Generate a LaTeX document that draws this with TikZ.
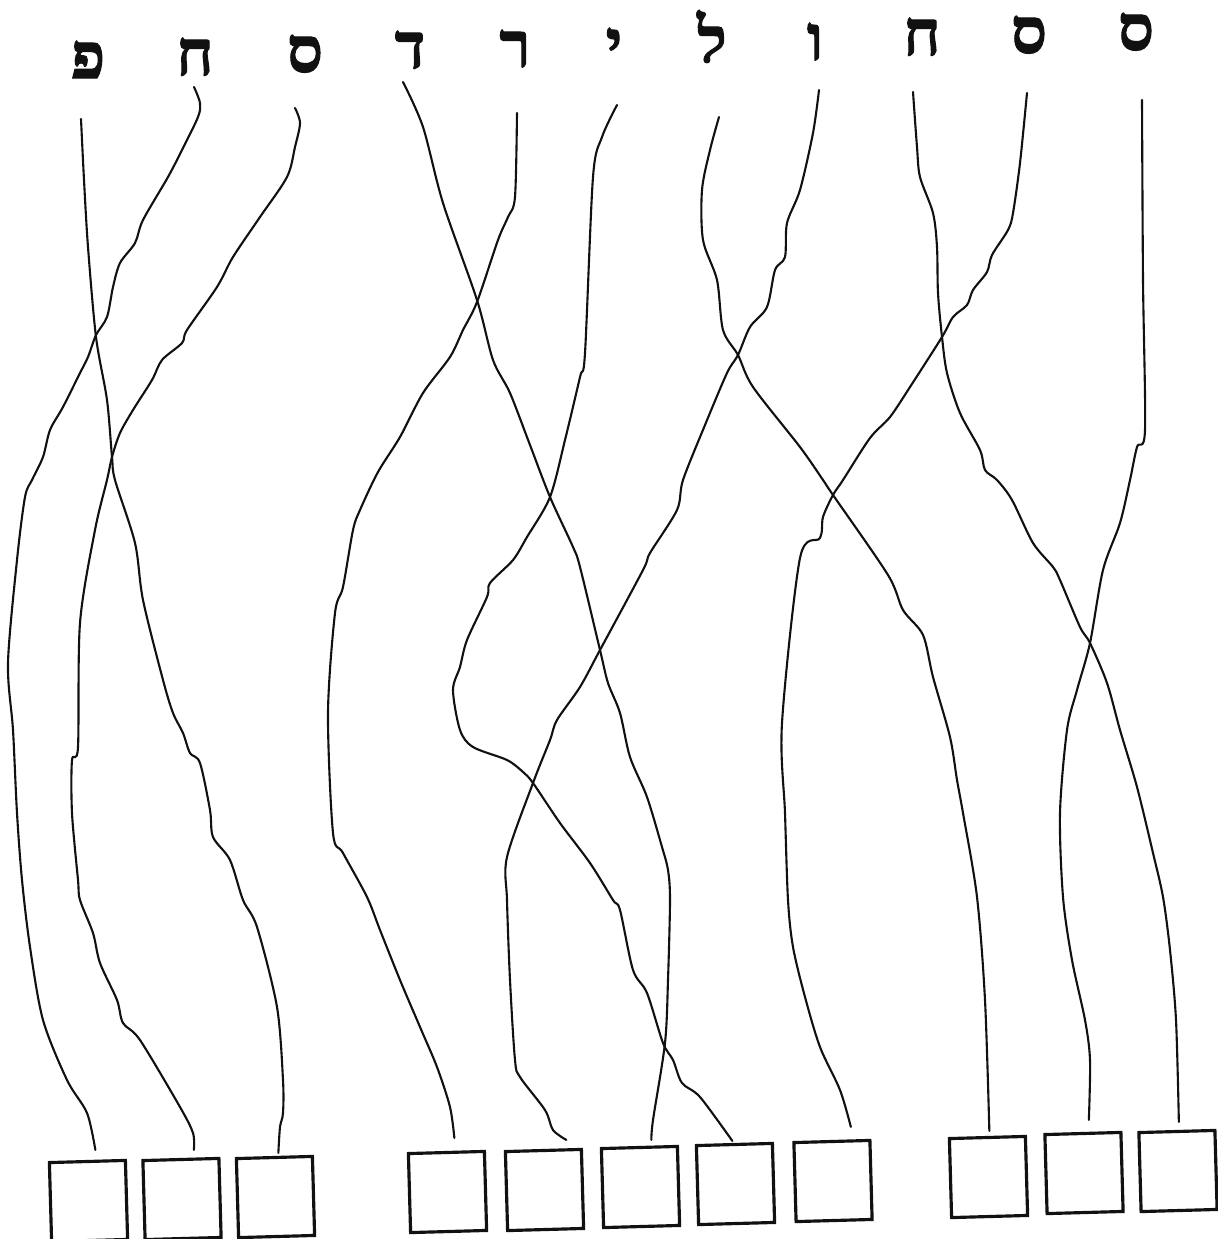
\documentclass[tikz,border=0pt]{standalone}
\usepackage{fontspec}
\newfontfamily\hebfont[Script=Hebrew, FakeBold=1.6]{Liberation Serif}
\TeXXeTstate=1
\definecolor{ink}{HTML}{111111}

\begin{document}
\begin{tikzpicture}[x=0.01cm, y=-0.01cm,
  wire/.style={ink, line width=0.6pt, line cap=round, line join=round},
  slot/.style={draw=ink, line width=0.9pt, minimum width=0.76cm, minimum height=0.79cm, inner sep=0pt, rotate=1.6},
  glyph/.style={anchor=base, inner sep=0pt, text=ink, font=\hebfont\bfseries\fontsize{18}{18}\selectfont}]

\useasboundingbox (0,0) rectangle (1217,1239);

% --- Top row: letters ---
\node[glyph] (pe)      at (88,78)   {\beginR פ\endR};
\node[glyph] (het1)    at (195,75)  {\beginR ח\endR};
\node[glyph] (samekh1) at (305,72)  {\beginR ס\endR};
\node[glyph] (dalet)   at (410,68)  {\beginR ד\endR};
\node[glyph] (resh)    at (515,67)  {\beginR ר\endR};
\node[glyph] (yod)     at (614,65)  {\beginR י\endR};
\node[glyph] (lamed)   at (712,62)  {\beginR ל\endR};
\node[glyph] (vav)     at (815,60)  {\beginR ו\endR};
\node[glyph] (het2)    at (922,55)  {\beginR ח\endR};
\node[glyph] (samekh2) at (1029,53) {\beginR ס\endR};
\node[glyph] (samekh3) at (1136,50) {\beginR ס\endR};

% --- Bottom row: empty boxes (3 + 5 + 3) ---
\node[slot] (b1)  at (88.5,1201)  {};
\node[slot] (b2)  at (182,1199)   {};
\node[slot] (b3)  at (275.5,1197) {};
\node[slot] (b4)  at (447.5,1192) {};
\node[slot] (b5)  at (544.5,1190) {};
\node[slot] (b6)  at (640.5,1187) {};
\node[slot] (b7)  at (735.5,1184) {};
\node[slot] (b8)  at (833,1181)   {};
\node[slot] (b9)  at (988.5,1177) {};
\node[slot] (b10) at (1084,1173)  {};
\node[slot] (b11) at (1178,1171)  {};

% --- Left group ---
% pe -> third box
\draw[wire] plot[smooth, tension=0.5] coordinates {([shift={(-7,41)}]pe.base)
  (84,180) (88,247) (96,337) (107,400) (112,457) (115,480) (135,543) (143,600)
  (163,680) (173,713) (183,733) (190,753) (200,763) (210,810) (213,837) (230,860)
  (243,900) (257,927) (277,1007) (283,1080) (283,1113) (280,1127)
  ([shift={(4,-3)}]b3.north)};
% het -> first box
\draw[wire] plot[smooth, tension=0.5] coordinates {([shift={(-1,12)}]het1.base)
  (200,103) (198,117) (182,150) (168,177) (143,220) (135,243) (120,263) (113,287)
  (107,317) (96,335) (88,357) (80,373) (63,407) (50,430) (43,457) (32,480) (25,497)
  (17,560) (8,663) (13,730) (17,813) (22,880) (30,947) (43,1020) (67,1080) (87,1113)
  ([shift={(8,-10)}]b1.north)};
% samekh -> second box
\draw[wire] plot[smooth, tension=0.5] coordinates {([shift={(-10,36)}]samekh1.base)
  (300,123) (295,147) (287,177) (260,217) (233,257) (217,287) (187,330) (182,343)
  (162,360) (152,380) (133,410) (120,433) (112,457) (107,480) (95,530) (80,623)
  (78,747) (72,760) (72,813) (78,880) (80,900) (93,933) (100,963) (117,1000)
  (123,1023) (140,1040) (180,1107) (193,1133)
  ([shift={(13,-8)}]b2.north)};

% --- Middle group ---
% dalet -> b6
\draw[wire] plot[smooth, tension=0.5] coordinates {([shift={(-7,14)}]dalet.base)
  (423,127) (443,203) (477,300) (493,360) (510,393) (530,445) (550,497) (573,547)
  (580,567) (600,650) (608,683) (620,713) (630,757) (647,797) (662,847) (668,870)
  (670,900) (668,980) (665,1043) (653,1120)
  ([shift={(12,-6)}]b6.north)};
% resh -> b4
\draw[wire] plot[smooth, tension=0.5] coordinates {([shift={(2,46)}]resh.base)
  (515,197) (508,217) (498,240) (477,302) (463,330) (450,357) (423,393) (400,437)
  (378,472) (360,510) (353,530) (343,587) (335,613) (328,713) (333,833) (343,853)
  (367,897) (380,930) (400,980) (420,1027) (437,1067) (450,1107)
  ([shift={(8,-13)}]b4.north)};
% yod -> b7
\draw[wire] plot[smooth, tension=0.5] coordinates {([shift={(3,40)}]yod.base)
  (602,137) (593,177) (585,353) (580,377) (565,440) (550,497) (527,537) (513,560)
  (490,583) (487,597) (467,640) (460,667) (453,690) (460,730) (473,747) (507,760)
  (523,772) (533,783) (560,823) (590,863) (613,900) (620,910) (633,970) (647,993)
  (663,1043) (673,1060) (682,1083) (700,1097)
  ([shift={(-2,-2)}]b7.north)};
% vav -> b5
\draw[wire] plot[smooth, tension=0.5] coordinates {([shift={(4,30)}]vav.base)
  (813,133) (800,190) (787,223) (785,257) (775,270) (767,307) (750,327) (738,355)
  (727,373) (705,425) (683,480) (677,510) (650,553) (643,570) (600,650) (580,687)
  (557,720) (550,740) (533,783) (507,857) (507,900) (510,980) (515,1060) (520,1077)
  (545,1110) (553,1130)
  ([shift={(23,-9)}]b5.north)};

% --- Right group ---
% lamed -> b9
\draw[wire] plot[smooth, tension=0.5] coordinates {([shift={(7,55)}]lamed.base)
  (710,150) (702,190) (703,240) (717,280) (723,330) (738,355) (753,387) (800,447)
  (823,480) (833,495) (888,575) (903,610) (923,635) (933,677) (950,737) (957,780)
  (963,813) (977,897) (985,1000)
  ([shift={(2,-5)}]b9.north)};
% het -> b11
\draw[wire] plot[smooth, tension=0.5] coordinates {([shift={(-9,37)}]het2.base)
  (917,147) (920,177) (933,213) (937,247) (938,293) (942,337) (947,373) (960,413)
  (980,450) (985,470) (997,480) (1012,500) (1033,543) (1053,567) (1060,580)
  (1080,627) (1090,643) (1107,683) (1120,730) (1137,787) (1153,853) (1163,897)
  (1170,950) (1176,1020)
  ([shift={(2,-8)}]b11.north)};
% samekh -> b8
\draw[wire] plot[smooth, tension=0.5] coordinates {([shift={(-2,40)}]samekh2.base)
  (1020,163) (1013,213) (1008,230) (992,255) (987,272) (973,290) (967,305) (953,317)
  (942,337) (910,387) (890,417) (870,438) (843,480) (833,495) (823,517) (820,538)
  (800,558) (782,723) (785,813) (788,900) (793,947) (805,997) (820,1047) (840,1090)
  ([shift={(19,-13)}]b8.north)};
% samekh -> b10
\draw[wire] plot[smooth, tension=0.5] coordinates {([shift={(6,50)}]samekh3.base)
  (1143,280) (1145,430) (1137,447) (1130,480) (1120,523) (1103,570) (1090,643)
  (1077,690) (1067,730) (1060,813) (1063,897) (1072,960) (1085,1020) (1090,1060)
  ([shift={(6,-12)}]b10.north)};

\end{tikzpicture}
\end{document}
